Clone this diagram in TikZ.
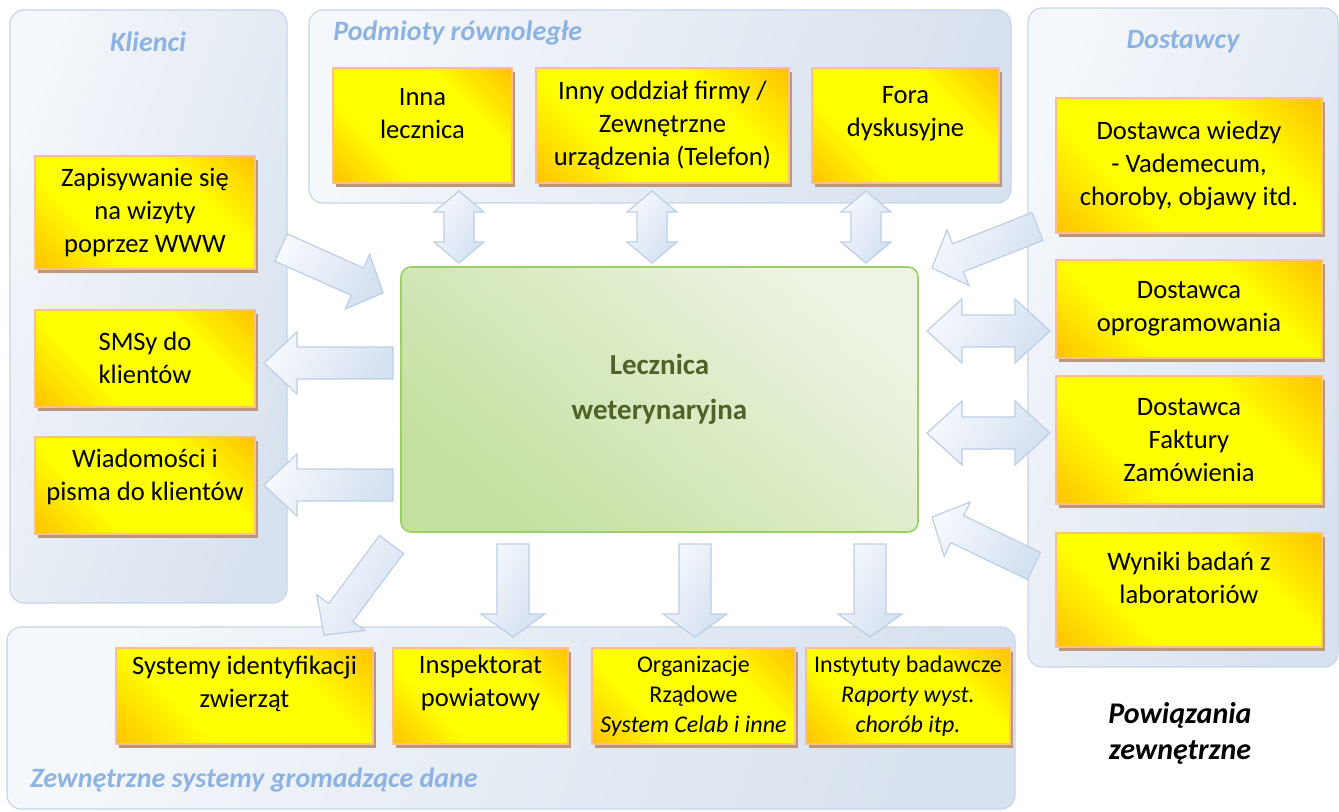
\documentclass[tikz,border=0pt]{standalone}
\usepackage{fontspec}
\setmainfont{Carlito}
\usetikzlibrary{positioning, calc, shadows}

\definecolor{panelline}{HTML}{C6D6EA}
\definecolor{panelA}{HTML}{F4F7FB}
\definecolor{panelB}{HTML}{D8E2EE}
\definecolor{boxyellow}{HTML}{FFFF00}
\definecolor{boxorange}{HTML}{FFC000}
\definecolor{boxline}{HTML}{F9BF8F}
\definecolor{boxshadow}{HTML}{BE9678}
\definecolor{leklight}{HTML}{EEF4E4}
\definecolor{lekgreen}{HTML}{C4E09F}
\definecolor{lekline}{HTML}{9BD164}
\definecolor{lektext}{HTML}{4F6228}
\definecolor{titleblue}{HTML}{8DB3E2}
\definecolor{arrline}{HTML}{BCCFE6}
\definecolor{arrA}{HTML}{F5F8FC}
\definecolor{arrB}{HTML}{D4E1F1}

\pgfdeclarehorizontalshading{ybox}{100bp}{color(0bp)=(boxorange); color(14bp)=(boxorange);
  color(35bp)=(boxyellow); color(65bp)=(boxyellow); color(86bp)=(boxorange); color(100bp)=(boxorange)}

% block arrows: tail, tip, half shaft, half head, head length
\newcommand{\blockarrow}[5]{%
  \coordinate (ba-h) at ($(#2)!#5!(#1)$);
  \draw[barrow] ($(#1)!#3!90:(#2)$) -- ($(ba-h)!#3!90:(#2)$) -- ($(ba-h)!#4!90:(#2)$) -- (#2)
    -- ($(ba-h)!#4!-90:(#2)$) -- ($(ba-h)!#3!-90:(#2)$) -- ($(#1)!#3!-90:(#2)$) -- cycle;
}
\newcommand{\dblarrow}[5]{%
  \coordinate (da-a) at ($(#1)!#5!(#2)$);
  \coordinate (da-b) at ($(#2)!#5!(#1)$);
  \draw[barrow] (#1) -- ($(da-a)!#4!90:(#2)$) -- ($(da-a)!#3!90:(#2)$) -- ($(da-b)!#3!90:(#2)$)
    -- ($(da-b)!#4!90:(#2)$) -- (#2) -- ($(da-b)!#4!-90:(#2)$) -- ($(da-b)!#3!-90:(#2)$)
    -- ($(da-a)!#3!-90:(#2)$) -- ($(da-a)!#4!-90:(#2)$) -- cycle;
}

\begin{document}
\begin{tikzpicture}[x=0.5pt, y=0.5pt,
    panel/.style={draw=panelline, line width=0.6pt, rounded corners=7pt,
                  left color=panelA, right color=panelB, shading angle=70, inner sep=0pt},
    box/.style={draw=boxline, line width=1pt, shading=ybox, shading angle=45,
                drop shadow={shadow xshift=1.5pt, shadow yshift=-2pt, fill=boxshadow, opacity=1},
                align=center, inner sep=2pt, font=\fontsize{13.3}{16.5}\selectfont},
    smallbox/.style={box, font=\fontsize{12}{15}\selectfont},
    lift/.style={text depth=#1},
    lek/.style={draw=lekline, line width=0.8pt, rounded corners=5pt,
                top color=leklight, bottom color=lekgreen, shading angle=-40,
                align=center, text=lektext, font=\fontsize{14.5}{22.5}\selectfont\bfseries},
    grouptitle/.style={inner sep=0pt, text=titleblue, font=\fontsize{14}{17}\selectfont\bfseries\itshape},
    barrow/.style={draw=arrline, line width=0.6pt, left color=arrA, right color=arrB, shading angle=60}
  ]
    \useasboundingbox (0,0) rectangle (1339,811);
    % Panels
    \node[panel, minimum width=138.5pt, minimum height=296.5pt] (pKlienci) at (148.5,504.5) {};
    \node[panel, minimum width=351pt, minimum height=96.5pt] (pPodmioty) at (660,704.5) {};
    \node[panel, minimum width=155pt, minimum height=329.5pt] (pDostawcy) at (1183,473.5) {};
    \node[panel, minimum width=504pt, minimum height=91pt] (pZewn) at (511,93) {};
    \node[grouptitle] (tKlienci) at (148,769) {Klienci};
    \node[grouptitle, anchor=west] (tPodmioty) at (333,778) {Podmioty równoległe};
    \node[grouptitle] (tDostawcy) at (1183,769) {Dostawcy};
    \node[grouptitle, anchor=west] (tZewn) at (30,31) {Zewnętrzne systemy gromadzące dane};

    % Centre
    \node[lek, minimum width=258.5pt, minimum height=132.5pt, lift=13pt] (lek) at (659.5,411.5)
      {Lecznica\\weterynaryjna};

    % Arrow ends
    \coordinate (zapT) at (281,563.5);  \coordinate (zapH) at (383,518);
    \coordinate (smsT) at (393,448);    \coordinate (smsH) at (264,448);
    \coordinate (wiadT) at (393,326);   \coordinate (wiadH) at (264,326);
    \coordinate (innaA) at (459,620);   \coordinate (innaB) at (459,548);
    \coordinate (oddzA) at (652,620);   \coordinate (oddzB) at (652,548);
    \coordinate (foraA) at (866,620);   \coordinate (foraB) at (866,548);
    \coordinate (wiedzyT) at (1037.5,584.5); \coordinate (wiedzyH) at (932,543);
    \coordinate (oprogA) at (927,480);  \coordinate (oprogB) at (1050,480);
    \coordinate (faktA) at (927,378);   \coordinate (faktB) at (1050,378);
    \coordinate (wynT) at (1034,245);   \coordinate (wynH) at (932,294);
    \coordinate (sysT) at (391.5,266.5); \coordinate (sysH) at (324,176);
    \coordinate (inspT) at (513,267);   \coordinate (inspH) at (513,174);
    \coordinate (orgT) at (695,267);    \coordinate (orgH) at (695,174);
    \coordinate (instT) at (870,267);   \coordinate (instH) at (870,174);

    % Arrows
    \blockarrow{zapT}{zapH}{7.5pt}{15pt}{14pt}
    \blockarrow{smsT}{smsH}{8pt}{15.5pt}{16.5pt}
    \blockarrow{wiadT}{wiadH}{8pt}{15.5pt}{16.5pt}
    \dblarrow{innaA}{innaB}{7.5pt}{12.5pt}{10.5pt}
    \dblarrow{oddzA}{oddzB}{7.5pt}{12.5pt}{10.5pt}
    \dblarrow{foraA}{foraB}{7.5pt}{12.5pt}{10.5pt}
    \blockarrow{wiedzyT}{wiedzyH}{7.5pt}{15pt}{14pt}
    \dblarrow{oprogA}{oprogB}{8pt}{16pt}{17.5pt}
    \dblarrow{faktA}{faktB}{8pt}{16pt}{17.5pt}
    \blockarrow{wynT}{wynH}{7.5pt}{15pt}{14pt}
    \blockarrow{sysT}{sysH}{7.5pt}{15pt}{14pt}
    \blockarrow{inspT}{inspH}{8pt}{16pt}{11.5pt}
    \blockarrow{orgT}{orgH}{8pt}{16pt}{11.5pt}
    \blockarrow{instT}{instH}{8pt}{16pt}{11.5pt}

    % Klienci
    \node[box, minimum width=110pt, minimum height=56.5pt] (zap) at (145,599)
      {Zapisywanie się\\na wizyty\\poprzez WWW};
    \node[box, minimum width=110pt, minimum height=48.5pt, below=19.5pt of zap] (sms)
      {SMSy do\\klientów};
    \node[box, minimum width=110pt, minimum height=48.5pt, lift=10pt, below=14pt of sms] (wiad)
      {Wiadomości i\\pisma do klientów};
    % Podmioty rownolegle
    \node[box, minimum width=89.5pt, minimum height=57.5pt, lift=12pt] (inna) at (422.5,685.5)
      {Inna\\lecznica};
    \node[box, minimum width=126.5pt, minimum height=57.5pt, right=11pt of inna] (oddz)
      {Inny oddział firmy /\\Zewnętrzne\\urządzenia (Telefon)};
    \node[box, minimum width=93.5pt, minimum height=57.5pt, lift=14pt, right=10.5pt of oddz] (fora)
      {Fora\\dyskusyjne};
    % Dostawcy
    \node[box, minimum width=133pt, minimum height=67.5pt] (wiedzy) at (1189,645.5)
      {Dostawca wiedzy\\- Vademecum,\\choroby, objawy itd.};
    \node[box, minimum width=133pt, minimum height=49pt, below=12.5pt of wiedzy] (oprog)
      {Dostawca\\oprogramowania};
    \node[box, minimum width=133pt, minimum height=64pt, below=8pt of oprog] (fakt)
      {Dostawca\\Faktury\\Zamówienia};
    \node[box, minimum width=133pt, minimum height=57pt, lift=12pt, below=13.5pt of fakt] (wyn)
      {Wyniki badań z\\laboratoriów};
    % Zewnetrzne systemy
    \node[box, minimum width=128.5pt, minimum height=48pt, lift=14pt] (sys) at (244.5,115)
      {Systemy identyfikacji\\zwierząt};
    \node[box, minimum width=87.5pt, minimum height=48pt, lift=15pt, right=9pt of sys] (insp)
      {Inspektorat\\powiatowy};
    \node[smallbox, minimum width=101.5pt, minimum height=48pt, right=11pt of insp] (org)
      {Organizacje\\Rządowe\\\textit{System Celab i inne}};
    \node[smallbox, minimum width=102pt, minimum height=48pt, right=4.5pt of org] (inst)
      {Instytuty badawcze\\\textit{Raporty wyst.}\\\textit{chorób itp.}};

    \node[align=center, font=\fontsize{15}{18}\selectfont\bfseries\itshape] (powiazania) at (1180,78)
      {Powiązania\\zewnętrzne};
\end{tikzpicture}
\end{document}
